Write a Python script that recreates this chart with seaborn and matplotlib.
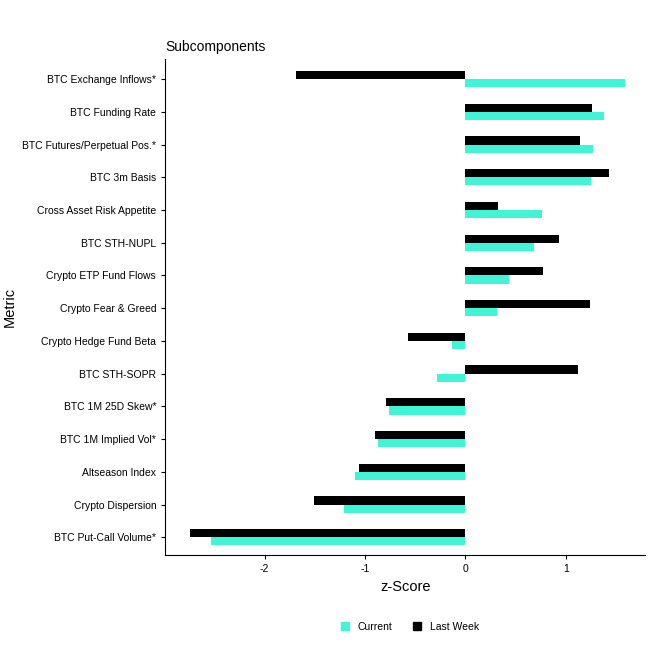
import matplotlib
matplotlib.use("Agg")
import matplotlib.pyplot as plt
import seaborn as sns
import pandas as pd
from matplotlib.patches import Patch

plt.rcParams["font.family"] = "Liberation Sans"

metrics = ["BTC Exchange Inflows*", "BTC Funding Rate", "BTC Futures/Perpetual Pos.*", "BTC 3m Basis",
           "Cross Asset Risk Appetite", "BTC STH-NUPL", "Crypto ETP Fund Flows", "Crypto Fear & Greed",
           "Crypto Hedge Fund Beta", "BTC STH-SOPR", "BTC 1M 25D Skew*", "BTC 1M Implied Vol*",
           "Altseason Index", "Crypto Dispersion", "BTC Put-Call Volume*"]
current = [1.59, 1.38, 1.27, 1.25, 0.76, 0.68, 0.43, 0.31, -0.13, -0.28, -0.76, -0.87, -1.10, -1.21, -2.53]
last_week = [-1.69, 1.26, 1.14, 1.43, 0.32, 0.93, 0.77, 1.24, -0.57, 1.12, -0.79, -0.90, -1.06, -1.51, -2.74]

df = pd.DataFrame({"Metric": metrics * 2, "z": current + last_week,
                   "Series": ["Current"] * len(metrics) + ["Last Week"] * len(metrics)})
colors = {"Current": "#40F5D5", "Last Week": "#000000"}

fig = plt.figure(figsize=(6.61, 6.61), dpi=100)
ax = fig.add_axes([0.25, 0.16, 0.726, 0.75])
sns.barplot(data=df, y="Metric", x="z", hue="Series", hue_order=["Last Week", "Current"],
            palette=colors, order=metrics, width=0.5, ax=ax, legend=False, saturation=1)
ax.set_xlim(-2.99, 1.79)
ax.set_ylim(len(metrics) - 0.45, -0.6)
ax.set_xticks([-2, -1, 0, 1])
ax.set_xticklabels(["-2", "-1", "0", "1"])
ax.set_xlabel("z-Score", fontsize=10.5)
ax.set_ylabel("Metric", fontsize=10.5)
ax.tick_params(labelsize=7.5, length=3)
for s in ["top", "right"]:
    ax.spines[s].set_visible(False)
ax.set_title("Subcomponents", loc="left", fontsize=10)
handles = [Patch(color=colors["Current"], label="Current"), Patch(color=colors["Last Week"], label="Last Week")]
fig.legend(handles=handles, loc="lower center", bbox_to_anchor=(0.62, 0.03), ncol=2, frameon=False,
           fontsize=7.5, handlelength=0.8, handleheight=0.8)
fig.savefig("out.png", dpi=100)
